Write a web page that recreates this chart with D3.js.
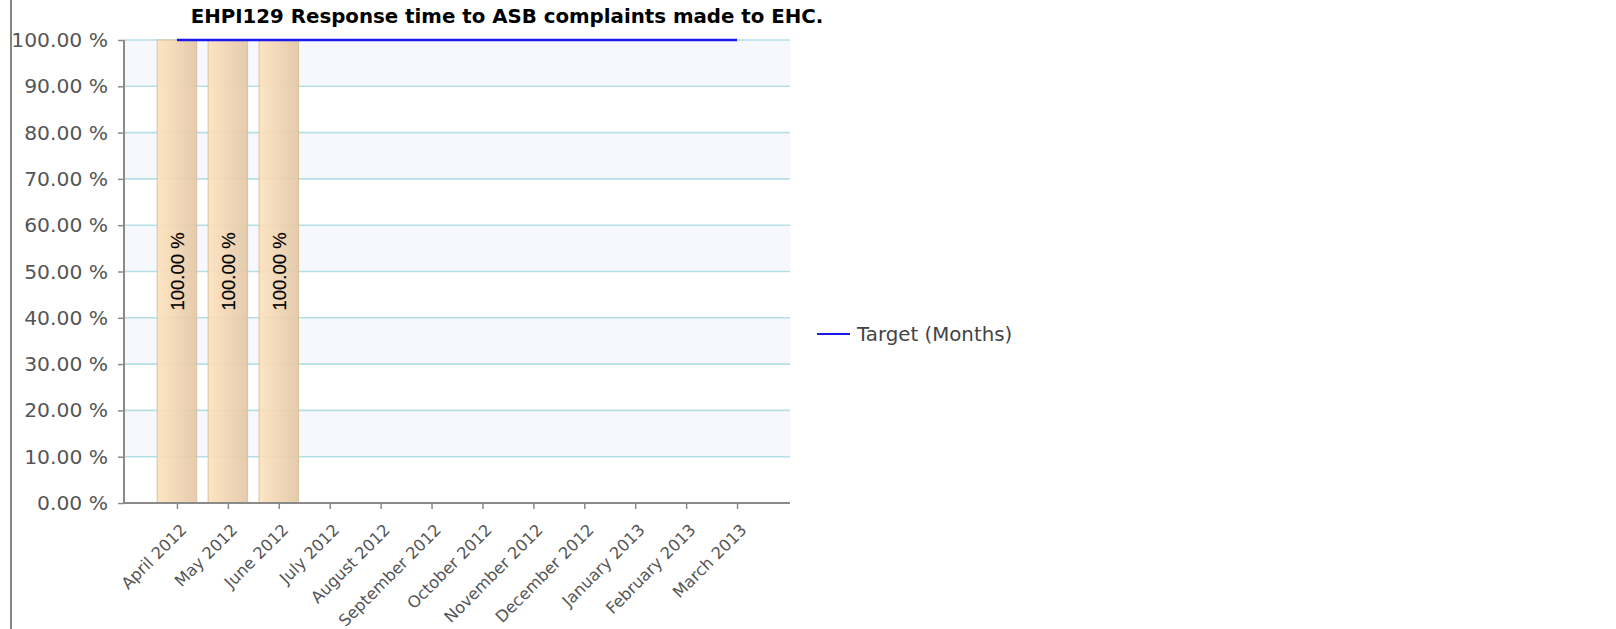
<!DOCTYPE html>
<html>
<head>
<meta charset="utf-8">
<script src="https://cdn.jsdelivr.net/npm/d3@7"></script>
<style>
  html, body { margin: 0; padding: 0; background: #fff; }
  svg { display: block; }
</style>
</head>
<body>
<svg id="chart" width="1616" height="629"></svg>
<script>
// Monthly categories for the reporting year
const months = ["April 2012", "May 2012", "June 2012", "July 2012", "August 2012",
  "September 2012", "October 2012", "November 2012", "December 2012",
  "January 2013", "February 2013", "March 2013"];
// Actual performance (%), only reported for the first quarter
const actual = [100, 100, 100, null, null, null, null, null, null, null, null, null];
// Target line (%)
const target = [100, 100, 100, 100, 100, 100, 100, 100, 100, 100, 100, 100];
// Y-axis ticks
const yTicks = [0, 10, 20, 30, 40, 50, 60, 70, 80, 90, 100];
const titleText = "EHPI129 Response time to ASB complaints made to EHC.";
const legendLabel = "Target (Months)";

const svg = d3.select("#chart");
const plot = { left: 124, right: 790, top: 40, bottom: 503 };

const x = d3.scalePoint().domain(months).range([plot.left, plot.right]).padding(1.04);
const y = d3.scaleLinear().domain([0, 100]).range([plot.bottom, plot.top]);
const barW = x.step() * 0.775;

// outer frame edge on the left
svg.append("line")
  .attr("x1", 11).attr("x2", 11).attr("y1", 0).attr("y2", 629)
  .attr("stroke", "#85857a").attr("stroke-width", 2);

// alternating band fills
const bands = d3.range(0, 100, 10).filter(v => (v / 10) % 2 === 1);
svg.append("g").selectAll("rect").data(bands).join("rect")
  .attr("x", plot.left).attr("width", plot.right - plot.left)
  .attr("y", d => y(d + 10)).attr("height", d => y(d) - y(d + 10))
  .attr("fill", "#f6f8fe");

// horizontal gridlines
svg.append("g").selectAll("line").data(yTicks.filter(v => v > 0)).join("line")
  .attr("x1", plot.left).attr("x2", plot.right)
  .attr("y1", d => y(d)).attr("y2", d => y(d))
  .attr("stroke", "#b5dfe6").attr("stroke-width", 1.6);

// bar gradient
const defs = svg.append("defs");
const grad = defs.append("linearGradient").attr("id", "barGrad")
  .attr("x1", "0%").attr("x2", "100%").attr("y1", "0%").attr("y2", "0%");
grad.append("stop").attr("offset", "0%").attr("stop-color", "#fde2bd");
grad.append("stop").attr("offset", "100%").attr("stop-color", "#e3c7a6");

const barData = months.map((m, i) => ({ m, v: actual[i] })).filter(d => d.v != null);

svg.append("g").selectAll("rect").data(barData).join("rect")
  .attr("x", d => x(d.m) - barW / 2).attr("width", barW)
  .attr("y", d => y(d.v)).attr("height", d => y(0) - y(d.v))
  .attr("fill", "url(#barGrad)").attr("fill-opacity", 0.92)
  .attr("stroke", "#dcc09c").attr("stroke-width", 1);

// value labels inside bars
svg.append("g").selectAll("text").data(barData).join("text")
  .attr("transform", d => `translate(${x(d.m) + 7},${(y(d.v) + y(0)) / 2}) rotate(-90)`)
  .attr("text-anchor", "middle")
  .attr("font-family", "Liberation Sans, Arial, sans-serif")
  .attr("font-size", 18.5).attr("fill", "#000")
  .attr("stroke", "#000").attr("stroke-width", 0.2)
  .text(d => d.v.toFixed(2) + " %");

// target line
const line = d3.line().x((d, i) => x(months[i])).y(d => y(d));
svg.append("path").datum(target)
  .attr("d", line).attr("fill", "none")
  .attr("stroke", "#1a1af0").attr("stroke-width", 2.6);

// y axis
const yAxis = svg.append("g").attr("transform", `translate(${plot.left},0)`)
  .call(d3.axisLeft(y).tickValues(yTicks).tickSize(6).tickPadding(10)
    .tickFormat(d => d3.format(".2f")(d) + " %"));
yAxis.select(".domain").attr("stroke", "#8a8a8a").attr("stroke-width", 2)
  .attr("d", `M0,${plot.top}V${plot.bottom}`);
yAxis.selectAll(".tick line").attr("stroke", "#8a8a8a").attr("stroke-width", 1.5);
yAxis.selectAll(".tick text")
  .attr("font-family", "DejaVu Sans, Verdana, sans-serif")
  .attr("font-size", 20.3).attr("fill", "#555");

// x axis
const xAxis = svg.append("g").attr("transform", `translate(0,${plot.bottom})`)
  .call(d3.axisBottom(x).tickSize(6).tickSizeOuter(0));
xAxis.select(".domain").attr("stroke", "#8a8a8a").attr("stroke-width", 2)
  .attr("d", `M${plot.left},0H${plot.right}`);
xAxis.selectAll(".tick line").attr("stroke", "#8a8a8a").attr("stroke-width", 1.5);
xAxis.selectAll(".tick text")
  .attr("font-family", "DejaVu Sans, Verdana, sans-serif")
  .attr("font-size", 16.3).attr("fill", "#555")
  .attr("text-anchor", "end")
  .attr("dy", null).attr("y", null)
  .attr("transform", "translate(10,28) rotate(-45)");

// title
svg.append("text")
  .attr("x", 507).attr("y", 23)
  .attr("text-anchor", "middle")
  .attr("font-family", "DejaVu Sans, Verdana, sans-serif")
  .attr("font-weight", "bold").attr("font-size", 19.8)
  .attr("fill", "#000")
  .text(titleText);

// legend
const lg = svg.append("g").attr("transform", "translate(817,334)");
lg.append("line").attr("x1", 0).attr("x2", 33).attr("y1", 0).attr("y2", 0)
  .attr("stroke", "#1a1af0").attr("stroke-width", 2);
lg.append("text").attr("x", 40).attr("y", 7)
  .attr("font-family", "DejaVu Sans, Verdana, sans-serif")
  .attr("font-size", 19.8).attr("fill", "#444")
  .text(legendLabel);
</script>
</body>
</html>
